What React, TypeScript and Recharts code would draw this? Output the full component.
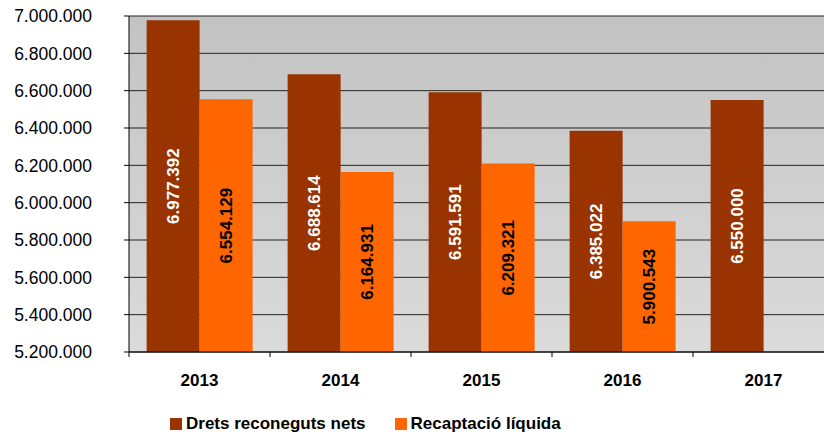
import { Bar, BarChart, CartesianGrid, LabelList, Legend, XAxis, YAxis } from 'recharts';

const years = ['2013', '2014', '2015', '2016', '2017'];
const drets = [6977392, 6688614, 6591591, 6385022, 6550000];
const recaptacio = [6554129, 6164931, 6209321, 5900543, null];
const yTicks = [5200000, 5400000, 5600000, 5800000, 6000000, 6200000, 6400000, 6600000, 6800000, 7000000];

const data = years.map((year, i) => ({ year, drets: drets[i], recaptacio: recaptacio[i] }));

const FONT = '"Liberation Sans", Arial, sans-serif';
const CHART_W = 836;
const CHART_H = 435;
const Y_W = 129;
const MARGIN = { top: 16, right: 2, left: 0, bottom: 0 };
const band = (CHART_W - MARGIN.right - MARGIN.left - Y_W) / years.length;

const fmt = (n: number) => String(n).replace(/\B(?=(\d{3})+(?!\d))/g, '.');

const barLabel = (color: string) => (props: any) => {
  const { x, y, width, height, value } = props;
  if (value == null) return null;
  const cx = Number(x) + Number(width) / 2;
  const cy = Number(y) + Number(height) / 2;
  return (
    <text
      x={cx}
      y={cy}
      transform={`rotate(-90 ${cx} ${cy})`}
      textAnchor="middle"
      dominantBaseline="central"
      fill={color}
      fontSize={17}
      fontWeight="bold"
      fontFamily={FONT}
    >
      {fmt(value)}
    </text>
  );
};

const YearTick = (props: any) => {
  const { x, y, payload } = props;
  const bx = x - band / 2;
  return (
    <g>
      <line x1={bx} x2={bx} y1={y - 22} y2={y - 17} stroke="#000" />
      <text x={x} y={y} dy="0.71em" textAnchor="middle" fill="#000" fontSize={17} fontWeight="bold" fontFamily={FONT}>
        {payload.value}
      </text>
    </g>
  );
};

const legendItems = [
  { label: 'Drets reconeguts nets', color: '#993300', gap: 170 },
  { label: 'Recaptació líquida', color: '#FF6600', gap: 29 },
];

const LegendBox = () => (
  <div style={{ height: 33, display: 'flex', alignItems: 'center', paddingTop: 11, boxSizing: 'border-box' }}>
    {legendItems.map((it) => (
      <div key={it.label} style={{ display: 'flex', alignItems: 'center', marginLeft: it.gap }}>
        <span style={{ width: 12, height: 12, background: it.color, marginRight: 4, display: 'inline-block' }} />
        <span style={{ fontFamily: FONT, fontSize: 17, fontWeight: 'bold', color: '#000' }}>{it.label}</span>
      </div>
    ))}
  </div>
);

export default function App() {
  return (
    <div style={{ position: 'absolute', left: 0, top: 0, width: 824, height: 435, overflow: 'hidden', background: '#fff' }}>
      <BarChart width={CHART_W} height={CHART_H} data={data} margin={MARGIN} barGap={0} barCategoryGap="12.5%">
        <defs>
          <linearGradient id="plotBg" x1="0" y1="0" x2="0" y2="1">
            <stop offset="0%" stopColor="#c3c3c3" />
            <stop offset="100%" stopColor="#dbdbdb" />
          </linearGradient>
        </defs>
        <CartesianGrid vertical={false} stroke="#222" fill="url(#plotBg)" fillOpacity={1} />
        <XAxis
          dataKey="year"
          height={50}
          axisLine={{ stroke: '#000' }}
          tickLine={false}
          tickSize={0}
          tickMargin={22}
          tick={<YearTick />}
        />
        <YAxis
          width={Y_W}
          domain={[5200000, 7000000]}
          ticks={yTicks}
          allowDataOverflow
          tickFormatter={fmt}
          axisLine={{ stroke: '#000' }}
          tickLine={{ stroke: '#000' }}
          tickSize={5}
          tickMargin={32}
          tick={{ fill: '#000', fontSize: 17.5, fontFamily: FONT }}
        />
        <Legend verticalAlign="bottom" content={<LegendBox />} wrapperStyle={{ left: 0, width: 824, height: 33 }} />
        <Bar dataKey="drets" name="Drets reconeguts nets" fill="#993300" isAnimationActive={false}>
          <LabelList dataKey="drets" content={barLabel('#fff')} />
        </Bar>
        <Bar dataKey="recaptacio" name="Recaptació líquida" fill="#FF6600" isAnimationActive={false}>
          <LabelList dataKey="recaptacio" content={barLabel('#000')} />
        </Bar>
      </BarChart>
    </div>
  );
}
